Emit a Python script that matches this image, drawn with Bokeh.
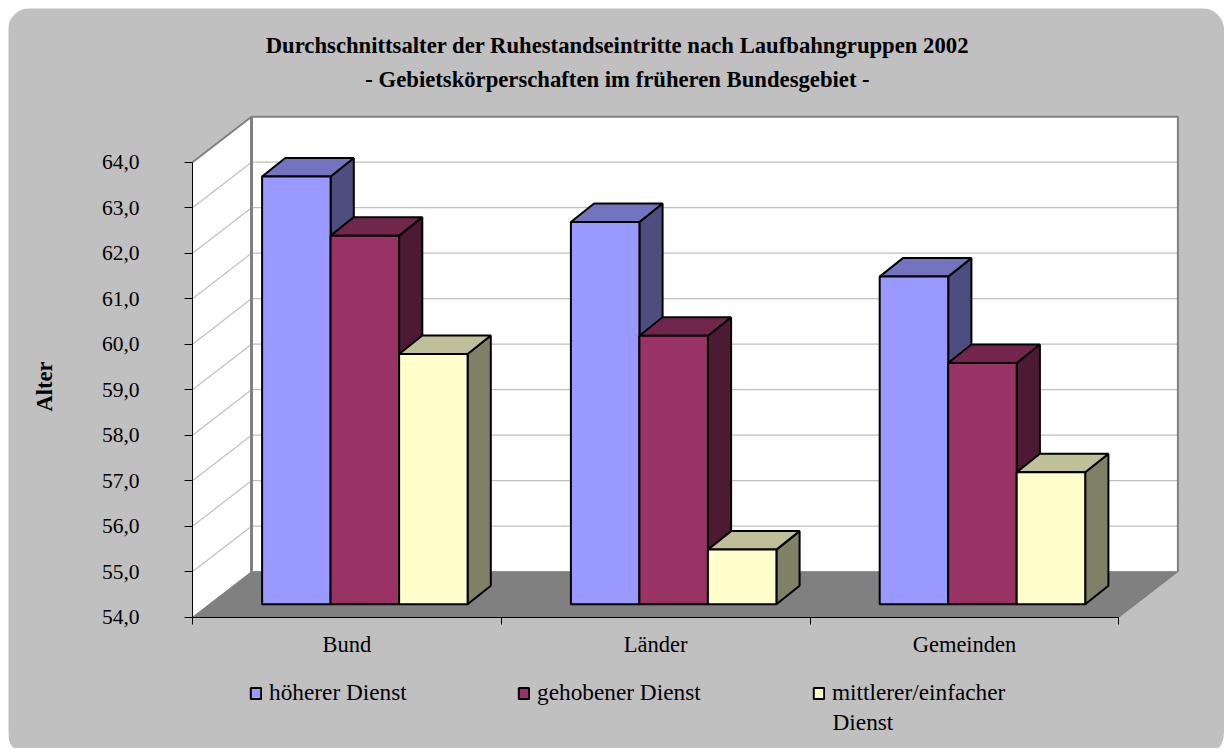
from bokeh.embed import file_html
from bokeh.resources import INLINE
from bokeh.plotting import figure
from bokeh.models import Range1d, FixedTicker, Label, Legend, LegendItem

title_lines = ["Durchschnittsalter der Ruhestandseintritte nach Laufbahngruppen 2002",
               "- Gebietskörperschaften im früheren Bundesgebiet -"]
y_title = "Alter"
categories = ["Bund", "Länder", "Gemeinden"]
series_names = ["höherer Dienst", "gehobener Dienst", "mittlerer/einfacher\nDienst"]
hoeherer = [63.4, 62.4, 61.2]
gehobener = [62.1, 59.9, 59.3]
mittlerer = [59.5, 55.2, 56.9]
series_values = [hoeherer, gehobener, mittlerer]
y_ticks = [54, 55, 56, 57, 58, 59, 60, 61, 62, 63, 64]
front_colors = ["#9999ff", "#993366", "#ffffcc"]
top_colors = ["#7373bf", "#73264d", "#bfbf99"]
side_colors = ["#4d4d80", "#4d1a33", "#808066"]

# layout constants (pixels of the page)
AX_L, AX_B = 193, 617.7
PAGE_L, PAGE_T, PAGE_R, PAGE_B = 9, 9, 1225, 749
PX_CAT, PX_UNIT = 308.8, 45.5
wall_dx, wall_dy = 59 / PX_CAT, 1.0
bar_dx, bar_dy = 23.2 / PX_CAT, 18.5 / PX_UNIT
bar_w = 68.5 / PX_CAT
bar_start = 69.6 / PX_CAT
bar_base = 54 + 13 / PX_UNIT
ymin = y_ticks[0]
ymax = y_ticks[-1]
ncat = len(categories)


def X(px):
    return (px - AX_L) / PX_CAT


def Y(py):
    return 54 + (AX_B - py) / PX_UNIT


p = figure(width=PAGE_R - PAGE_L, height=PAGE_B - PAGE_T, output_backend="svg", toolbar_location=None,
           x_range=Range1d(X(PAGE_L), X(PAGE_R)),
           y_range=Range1d(Y(PAGE_B), Y(PAGE_T)),
           min_border=0,
           background_fill_color="#c0c0c0", border_fill_color="#c0c0c0",
           outline_line_color=None, margin=(8, 0, 0, 8))
p.styles = {"border-radius": "22px 22px 7px 7px / 22px 22px 16px 16px", "overflow": "hidden"}
p.grid.visible = False

GRID = "#c0c0c0"
EDGE = "#808080"

# walls
p.patch([0, wall_dx, wall_dx, 0], [ymin, ymin + wall_dy, ymax + wall_dy, ymax],
        fill_color="white", line_color=None)
p.quad(left=wall_dx, right=ncat + wall_dx, bottom=ymin + wall_dy, top=ymax + wall_dy,
       fill_color="white", line_color=None)
# gridlines
grid_ticks = y_ticks[1:-1]
p.multi_line([[0, wall_dx, ncat + wall_dx] for _ in grid_ticks],
             [[v, v + wall_dy, v + wall_dy] for v in grid_ticks],
             line_color=GRID, line_width=1.2)
# wall edges
p.line([0, wall_dx, ncat + wall_dx, ncat + wall_dx], [ymax, ymax + wall_dy, ymax + wall_dy, ymin + wall_dy],
       line_color=EDGE, line_width=2)
p.line([wall_dx, wall_dx], [ymin + wall_dy, ymax + wall_dy], line_color=EDGE, line_width=3)
# floor
p.patch([0, ncat, ncat + wall_dx, wall_dx], [ymin, ymin, ymin + wall_dy, ymin + wall_dy],
        fill_color=EDGE, line_color=EDGE, line_width=1)

# bars
fronts = []
for s, vals in enumerate(series_values):
    xs_left = [i + bar_start + s * bar_w for i in range(ncat)]
    tops = [v + 13 / PX_UNIT for v in vals]
    side_x = [[l + bar_w, l + bar_w + bar_dx, l + bar_w + bar_dx, l + bar_w] for l in xs_left]
    side_y = [[bar_base, bar_base + bar_dy, t + bar_dy, t] for t in tops]
    top_x = [[l, l + bar_dx, l + bar_w + bar_dx, l + bar_w] for l in xs_left]
    top_y = [[t, t + bar_dy, t + bar_dy, t] for t in tops]
    p.patches(side_x, side_y, fill_color=side_colors[s], line_color="black", line_width=2)
    p.patches(top_x, top_y, fill_color=top_colors[s], line_color="black", line_width=2)
    r = p.vbar(x=[l + bar_w / 2 for l in xs_left], width=bar_w, bottom=bar_base, top=tops,
               fill_color=front_colors[s], line_color="black", line_width=2)
    fronts.append(r)

FONT = "Liberation Serif"
# axes
yax = p.yaxis[0]
yax.fixed_location = 0
yax.ticker = FixedTicker(ticks=y_ticks)
yax.major_label_overrides = {v: f"{v},0" for v in y_ticks}
yax.bounds = (ymin, ymax)
yax.major_tick_in = 0
yax.major_tick_out = 8
yax.minor_tick_line_color = None
yax.major_label_standoff = 45
yax.major_label_text_font = FONT
yax.major_label_text_font_size = "21.5px"
yax.major_label_text_color = "black"
yax.axis_line_color = "black"
yax.major_tick_line_color = "black"

xax = p.xaxis[0]
xax.fixed_location = 54
xax.ticker = FixedTicker(ticks=[i + 0.5 for i in range(ncat)], minor_ticks=list(range(ncat + 1)))
xax.major_label_overrides = {i + 0.5: c for i, c in enumerate(categories)}
xax.bounds = (0, ncat)
xax.major_tick_line_color = None
xax.major_tick_in = 0
xax.major_tick_out = 0
xax.minor_tick_in = 0
xax.minor_tick_out = 7
xax.minor_tick_line_color = "black"
xax.major_label_standoff = 8
xax.major_label_text_font = FONT
xax.major_label_text_font_size = "22.5px"
xax.major_label_text_color = "black"
xax.axis_line_color = "black"

# texts
for line, py in zip(title_lines, [46, 80]):
    p.add_layout(Label(x=X(618), y=Y(py), text=line, text_align="center", text_baseline="middle",
                       text_font=FONT, text_font_style="bold", text_font_size="22.7px", text_color="black"))
p.add_layout(Label(x=X(45), y=Y(387), text=y_title, angle=90, angle_units="deg",
                   text_align="center", text_baseline="middle",
                   text_font=FONT, text_font_style="bold", text_font_size="22.5px", text_color="black"))

# legends (first line of each name beside its swatch, a wrapped line below it)
LEG_FS = "23.3px"
for r, name, px in zip(fronts, series_names, [250, 518, 813]):
    lines = name.split("\n")
    leg = Legend(items=[LegendItem(label=lines[0], renderers=[r])],
                 location=(px - PAGE_L, PAGE_B - 707),
                 background_fill_alpha=0, border_line_color=None,
                 padding=0, margin=0, glyph_width=13, glyph_height=14, label_standoff=7,
                 label_text_font=FONT, label_text_font_size=LEG_FS, label_text_color="black")
    p.add_layout(leg, "center")
    for extra in lines[1:]:
        p.add_layout(Label(x=X(px + 20), y=Y(722), text=extra, text_align="left", text_baseline="middle",
                           text_font=FONT, text_font_size=LEG_FS, text_color="black"))

open("out.html", "w").write(file_html(p, INLINE))
